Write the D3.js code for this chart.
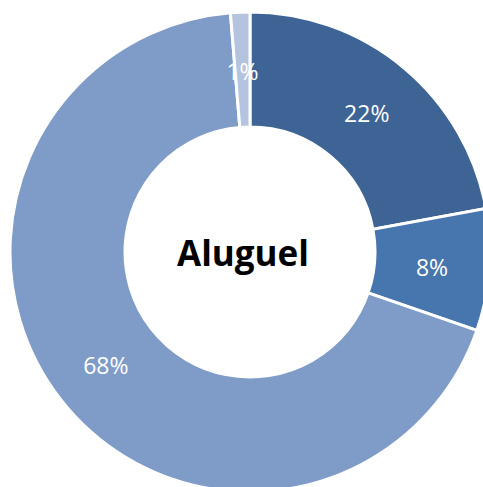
<!DOCTYPE html>
<html>
<head>
<meta charset="utf-8">
<script src="https://cdn.jsdelivr.net/npm/d3@7"></script>
<style>
  body { margin: 0; background: #fff; }
  #chart { width: 483px; height: 487px; overflow: hidden; }
</style>
</head>
<body>
<div id="chart"></div>
<script>
// slice data, clockwise from 12 o'clock
const categories = ["A", "B", "C", "D"];
const values = [22.1, 8.2, 68.4, 1.3];
const labels = ["22%", "8%", "68%", "1%"];
const colors = ["#3e6495", "#4775ad", "#7f9cc8", "#b4c4df"];
const title = "Aluguel";

const width = 483, height = 487;
const cx = 250, cy = 252;
const outerR = 240, innerR = 125;

const svg = d3.select("#chart").append("svg")
    .attr("width", width)
    .attr("height", height);

const g = svg.append("g")
    .attr("transform", "translate(" + cx + "," + cy + ")");

const pie = d3.pie().sort(null).value(d => d);
const arc = d3.arc().innerRadius(innerR).outerRadius(outerR);

const arcs = pie(values);

g.selectAll("path.slice").data(arcs).enter().append("path")
    .attr("class", "slice")
    .attr("d", arc)
    .attr("fill", (d, i) => colors[i])
    .attr("stroke", "#fff")
    .attr("stroke-width", 3);

g.selectAll("text.lbl").data(arcs).enter().append("text")
    .attr("class", "lbl")
    .attr("transform", d => "translate(" + arc.centroid(d) + ")")
    .attr("text-anchor", "middle")
    .attr("dy", "0.45em")
    .attr("fill", "#fff")
    .style("font-family", "'Open Sans', sans-serif")
    .style("font-size", "23px")
    .text((d, i) => labels[i]);

g.append("text")
    .attr("x", -7)
    .attr("y", 2)
    .attr("text-anchor", "middle")
    .attr("dy", "0.35em")
    .attr("fill", "#000")
    .style("font-family", "'Open Sans', sans-serif")
    .style("font-weight", "bold")
    .style("font-size", "35px")
    .text(title);
</script>
</body>
</html>
